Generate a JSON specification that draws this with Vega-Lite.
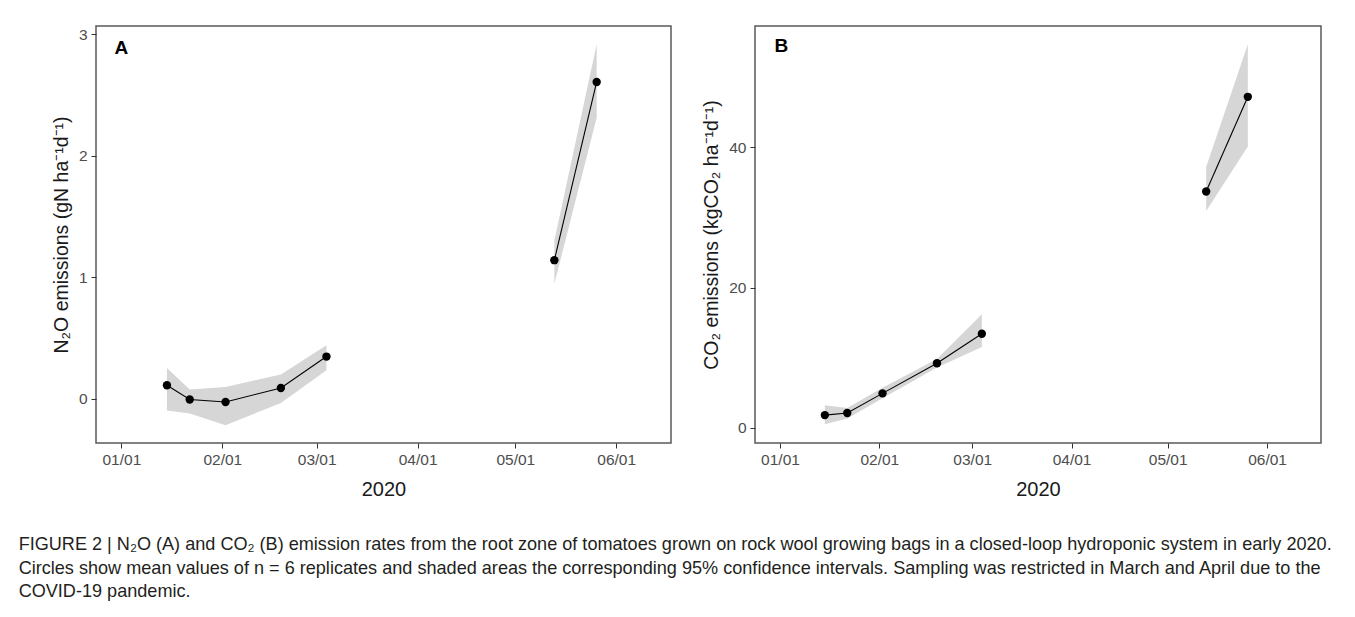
{
  "$schema": "https://vega.github.io/schema/vega-lite/v6.json",
  "padding": {"left": 18, "top": 25, "right": 0, "bottom": 0},
  "background": "white",
  "spacing": 29,
  "title": {
    "text": [
      "FIGURE 2 | N₂O (A) and CO₂ (B) emission rates from the root zone of tomatoes grown on rock wool growing bags in a closed-loop hydroponic system in early 2020.",
      "Circles show mean values of n = 6 replicates and shaded areas the corresponding 95% confidence intervals. Sampling was restricted in March and April due to the",
      "COVID-19 pandemic."
    ],
    "orient": "bottom",
    "anchor": "start",
    "frame": "bounds",
    "font": "Liberation Sans",
    "fontSize": 18.1,
    "fontWeight": "normal",
    "color": "#231f20",
    "lineHeight": 23.5,
    "offset": 36,
    "dx": -32
  },
  "datasets": {
    "n2o": [
      {"date": "2020-01-15T00:00:00", "mean": 0.11, "lo": -0.099, "hi": 0.252, "seg": "a"},
      {"date": "2020-01-22T00:00:00", "mean": -0.008, "lo": -0.124, "hi": 0.074, "seg": "a"},
      {"date": "2020-02-02T00:00:00", "mean": -0.028, "lo": -0.22, "hi": 0.096, "seg": "a"},
      {"date": "2020-02-19T00:00:00", "mean": 0.087, "lo": -0.036, "hi": 0.198, "seg": "a"},
      {"date": "2020-03-04T00:00:00", "mean": 0.346, "lo": 0.233, "hi": 0.44, "seg": "a"},
      {"date": "2020-05-13T00:00:00", "mean": 1.14, "lo": 0.945, "hi": 1.3, "seg": "b"},
      {"date": "2020-05-26T00:00:00", "mean": 2.608, "lo": 2.313, "hi": 2.918, "seg": "b"}
    ],
    "co2": [
      {"date": "2020-01-15T00:00:00", "mean": 1.8, "lo": 0.5, "hi": 3.2, "seg": "a"},
      {"date": "2020-01-22T00:00:00", "mean": 2.1, "lo": 1.3, "hi": 2.8, "seg": "a"},
      {"date": "2020-02-02T00:00:00", "mean": 4.9, "lo": 4.2, "hi": 5.7, "seg": "a"},
      {"date": "2020-02-19T00:00:00", "mean": 9.2, "lo": 8.6, "hi": 9.8, "seg": "a"},
      {"date": "2020-03-04T00:00:00", "mean": 13.4, "lo": 11.5, "hi": 16.2, "seg": "a"},
      {"date": "2020-05-13T00:00:00", "mean": 33.7, "lo": 30.9, "hi": 37.2, "seg": "b"},
      {"date": "2020-05-26T00:00:00", "mean": 47.2, "lo": 40.1, "hi": 54.7, "seg": "b"}
    ],
    "lblA": [{"date": "2020-01-01T00:00:00", "mean": 2.884, "label": "A"}],
    "lblB": [{"date": "2020-01-01T10:00:00", "mean": 54.5, "label": "B"}]
  },
  "config": {
    "view": {"stroke": "#5a5a5a", "strokeWidth": 1.5},
    "axis": {
      "labelFont": "Liberation Sans",
      "labelFontSize": 15.5,
      "labelColor": "#4d4d4d",
      "titleFont": "Liberation Sans",
      "titleFontSize": 20,
      "titleFontWeight": "normal",
      "titleColor": "#1a1a1a",
      "tickColor": "#333333",
      "tickSize": 5,
      "domain": false,
      "grid": false,
      "labelPadding": 4
    },
    "axisX": {"titlePadding": 12, "labelFlush": false, "labelOverlap": false},
    "axisY": {"titlePadding": 7, "titleFontSize": 19.5}
  },
  "hconcat": [
    {
      "width": 575,
      "height": 417,
      "layer": [
        {
          "data": {"name": "n2o"},
          "mark": {"type": "area", "color": "#d6d6d6", "opacity": 1},
          "encoding": {
            "x": {
              "field": "date", "type": "temporal", "title": "2020",
              "scale": {"domain": [{"year": 2019, "month": 12, "date": 24, "hours": 5}, {"year": 2020, "month": 6, "date": 17, "hours": 20}]},
              "axis": {"format": "%m/%d", "values": [
                {"year": 2020, "month": 1, "date": 1}, {"year": 2020, "month": 2, "date": 1}, {"year": 2020, "month": 3, "date": 1},
                {"year": 2020, "month": 4, "date": 1}, {"year": 2020, "month": 5, "date": 1}, {"year": 2020, "month": 6, "date": 1}]}
            },
            "y": {
              "field": "lo", "type": "quantitative", "title": "N₂O emissions  (gN ha⁻¹d⁻¹)",
              "scale": {"domain": [-0.366, 3.069], "nice": false, "zero": false},
              "axis": {"values": [0, 1, 2, 3], "format": "d"}
            },
            "y2": {"field": "hi"},
            "detail": {"field": "seg"}
          }
        },
        {
          "data": {"name": "n2o"},
          "mark": {"type": "line", "color": "black", "strokeWidth": 1.1},
          "encoding": {
            "x": {"field": "date", "type": "temporal"},
            "y": {"field": "mean", "type": "quantitative"},
            "detail": {"field": "seg"}
          }
        },
        {
          "data": {"name": "n2o"},
          "mark": {"type": "point", "filled": true, "color": "black", "opacity": 1, "size": 70},
          "encoding": {
            "x": {"field": "date", "type": "temporal"},
            "y": {"field": "mean", "type": "quantitative"}
          }
        },
        {
          "data": {"name": "lblA"},
          "mark": {"type": "text", "font": "Liberation Sans", "fontSize": 19, "fontWeight": "bold", "color": "black", "align": "center", "baseline": "middle"},
          "encoding": {
            "x": {"field": "date", "type": "temporal"},
            "y": {"field": "mean", "type": "quantitative"},
            "text": {"field": "label"}
          }
        }
      ]
    },
    {
      "width": 566,
      "height": 417,
      "layer": [
        {
          "data": {"name": "co2"},
          "mark": {"type": "area", "color": "#d6d6d6", "opacity": 1},
          "encoding": {
            "x": {
              "field": "date", "type": "temporal", "title": "2020",
              "scale": {"domain": [{"year": 2019, "month": 12, "date": 24, "hours": 5}, {"year": 2020, "month": 6, "date": 17, "hours": 20}]},
              "axis": {"format": "%m/%d", "values": [
                {"year": 2020, "month": 1, "date": 1}, {"year": 2020, "month": 2, "date": 1}, {"year": 2020, "month": 3, "date": 1},
                {"year": 2020, "month": 4, "date": 1}, {"year": 2020, "month": 5, "date": 1}, {"year": 2020, "month": 6, "date": 1}]}
            },
            "y": {
              "field": "lo", "type": "quantitative", "title": "CO₂ emissions  (kgCO₂ ha⁻¹d⁻¹)",
              "scale": {"domain": [-2.18, 57.3], "nice": false, "zero": false},
              "axis": {"values": [0, 20, 40], "format": "d"}
            },
            "y2": {"field": "hi"},
            "detail": {"field": "seg"}
          }
        },
        {
          "data": {"name": "co2"},
          "mark": {"type": "line", "color": "black", "strokeWidth": 1.1},
          "encoding": {
            "x": {"field": "date", "type": "temporal"},
            "y": {"field": "mean", "type": "quantitative"},
            "detail": {"field": "seg"}
          }
        },
        {
          "data": {"name": "co2"},
          "mark": {"type": "point", "filled": true, "color": "black", "opacity": 1, "size": 70},
          "encoding": {
            "x": {"field": "date", "type": "temporal"},
            "y": {"field": "mean", "type": "quantitative"}
          }
        },
        {
          "data": {"name": "lblB"},
          "mark": {"type": "text", "font": "Liberation Sans", "fontSize": 19, "fontWeight": "bold", "color": "black", "align": "center", "baseline": "middle"},
          "encoding": {
            "x": {"field": "date", "type": "temporal"},
            "y": {"field": "mean", "type": "quantitative"},
            "text": {"field": "label"}
          }
        }
      ]
    }
  ]
}
